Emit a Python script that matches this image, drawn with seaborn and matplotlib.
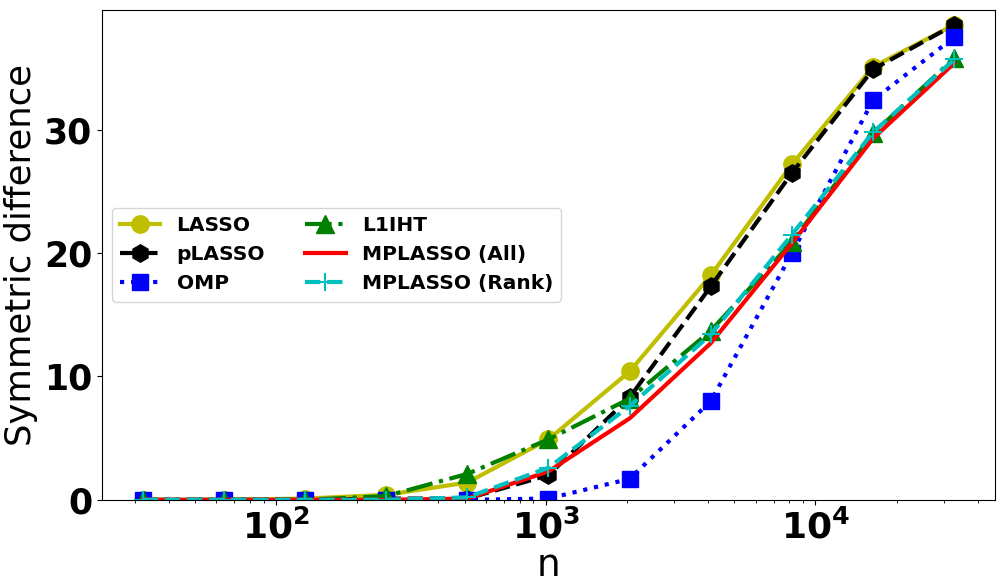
import numpy as np
import matplotlib
matplotlib.use('Agg')
import matplotlib.pyplot as plt
import seaborn as sns

# ── data ────────────────────────────────────────────────────
n_values = [32, 64, 128, 256, 512, 1024, 2048, 4096, 8192, 16384, 32768]

lasso = [0.0, 0.0, 0.1, 0.4, 1.4, 4.9, 10.4, 18.2, 27.2, 35.1, 38.5]
plasso = [0.0, 0.0, 0.0, 0.1, 0.1, 2.0, 8.3, 17.3, 26.5, 34.9, 38.5]
omp = [0.0, 0.0, 0.0, 0.0, 0.0, 0.1, 1.7, 8.0, 20.0, 32.4, 37.5]
l1iht = [0.0, 0.0, 0.0, 0.3, 2.1, 4.9, 8.2, 13.7, 20.9, 29.7, 35.8]
mplasso_all = [0.0, 0.0, 0.0, 0.0, 0.1, 2.3, 6.6, 12.7, 20.8, 29.3, 35.4]
mplasso_rank = [0.0, 0.0, 0.0, 0.0, 0.2, 2.6, 7.6, 13.4, 21.5, 29.8, 35.7]

series_names = ['LASSO', 'pLASSO', 'OMP', 'L1IHT', 'MPLASSO (All)', 'MPLASSO (Rank)']

fig, ax = plt.subplots(figsize=(10.05, 5.88), dpi=100)
fig.subplots_adjust(left=0.1015, right=0.990, top=0.983, bottom=0.150)

# (values, colour, marker, linestyle, markersize, edge width)
styles = [
    (lasso, 'y', 'o', '-', 12.5, 1),
    (plasso, 'k', 'h', '--', 12.5, 1),
    (omp, 'b', 's', ':', 11.5, 1),
    (l1iht, 'g', '^', '-.', 12.5, 1),
    (mplasso_all, 'r', '', '-', 0, 1),
    (mplasso_rank, 'c', '+', '--', 13, 1.5),
]

for (vals, col, mk, ls, ms, mew), name in zip(styles, series_names):
    sns.lineplot(x=n_values, y=vals, ax=ax, color=col, marker=mk if mk else None,
                 linestyle=ls, linewidth=3, markersize=ms, markeredgecolor=col,
                 markeredgewidth=mew, label=name)

ax.set_xscale('log')
ax.set_ylim(0, 39.7)
ax.set_yticks([0, 10, 20, 30])
ax.set_xlabel('n', fontsize=27, labelpad=2)
ax.set_ylabel('Symmetric difference', fontsize=25.5)
ax.tick_params(axis='x', which='major', labelsize=26)
ax.tick_params(axis='y', which='major', labelsize=25)
for lbl in ax.get_xticklabels() + ax.get_yticklabels():
    lbl.set_fontweight('bold')

ax.legend(loc='center left', ncol=2, prop={'weight': 'bold', 'size': 14.5})

plt.savefig('out.png', dpi=100)
